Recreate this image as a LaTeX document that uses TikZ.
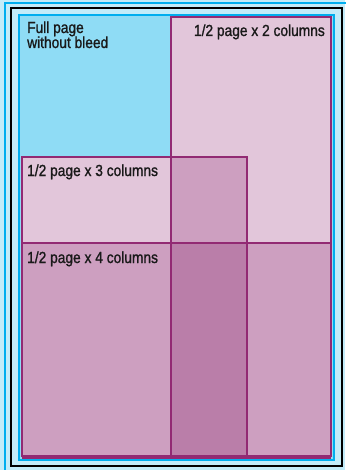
\documentclass[tikz,border=0pt]{standalone}
\usepackage{fontspec}
\setmainfont[FakeStretch=0.86,FakeBold=1.2]{Liberation Sans}
\usepackage{xcolor}
\usetikzlibrary{positioning}

\definecolor{bgblue}{HTML}{C3ECF9}
\definecolor{trimcyan}{HTML}{00AEEF}
\definecolor{pageblue}{HTML}{8FDCF5}
\definecolor{pinkA}{HTML}{E2C6DA}
\definecolor{pinkB}{HTML}{CD9FC0}
\definecolor{pinkC}{HTML}{BA7EA9}
\definecolor{plum}{HTML}{922A73}

\begin{document}
\begin{tikzpicture}[
  x=1pt, y=-1pt,
  every node/.style={font=\fontsize{16}{15}\selectfont},
  trim/.style={draw=trimcyan,line width=2.2pt},
  adbox/.style={draw=plum,line width=2.2pt},
  lbl/.style={inner sep=0pt,align=left,text=black!90}
]
\useasboundingbox (0,0) rectangle (345,470);
\fill[bgblue] (0,0) rectangle (345,470);

% bleed, safe frame and trim
\draw[trim] (5,3) rectangle (350,476);
\draw[black,line width=2pt] (11,8) rectangle (342,466);
\fill[pageblue] (19,15) rectangle (334,460);
\draw[trim] (19,15) rectangle (334,460);

% ad sizes
\fill[pinkA] (171,17) rectangle (331,456);
\fill[pinkA] (22,157) rectangle (247,456);
\fill[pinkB] (22,243) rectangle (331,456);
\fill[pinkB] (171,157) rectangle (247,243);
\fill[pinkC] (171,243) rectangle (247,456);
\draw[adbox] (171,17) rectangle (331,456);
\draw[adbox] (22,157) rectangle (247,456);
\draw[adbox] (22,243) rectangle (331,456);
\draw[plum,line width=2.5pt] (22,457.5) -- (331,457.5);

% labels
\node[lbl,anchor=base west] (full) at (27,48) {Full page\\without bleed};
\node[lbl,anchor=base east] (half2) at (325,36) {1/2 page x 2 columns};
\node[lbl,anchor=base west] (half3) at (27,176) {1/2 page x 3 columns};
\node[lbl,anchor=base west] (half4) at (27,263) {1/2 page x 4 columns};
\end{tikzpicture}
\end{document}
